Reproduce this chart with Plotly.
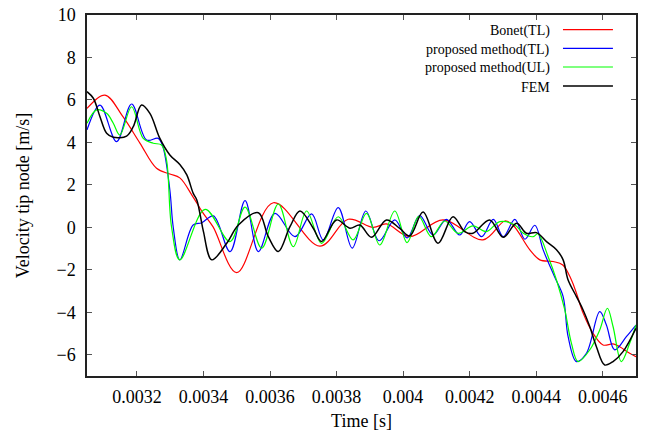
import plotly.graph_objects as go

# Tip-node velocity histories (time in s, velocity in m/s)
t_bonet = [0.003050, 0.003104, 0.003158, 0.003209, 0.003259, 0.003299, 0.003329, 0.003368,
           0.003399, 0.003429, 0.003500, 0.003610, 0.003750, 0.003835, 0.003910, 0.003950,
           0.004020, 0.004120, 0.004240, 0.004306, 0.004330, 0.004381, 0.004411, 0.004451,
           0.004480, 0.004506, 0.004521, 0.004541, 0.004571, 0.004601, 0.004631, 0.004651,
           0.004681, 0.004700]
v_bonet = [5.6, 6.23, 5.21, 3.97, 2.78, 2.51, 2.33, 1.45,
           0.67, 0.02, -2.13, 1.16, -0.88, 0.38, 0.0, 0.16,
           -0.44, 0.35, -0.59, 0.30, 0.11, -1.06, -1.53, -1.61,
           -1.77, -2.48, -3.10, -4.04, -4.99, -5.54, -5.49, -5.62,
           -5.93, -6.09]

t_tl = [0.003050, 0.003089, 0.003139, 0.003184, 0.003229, 0.003264, 0.003278, 0.003299,
        0.003309, 0.003329, 0.003369, 0.003395, 0.003430, 0.003480, 0.003525, 0.003565,
        0.003615, 0.003675, 0.003725, 0.003760, 0.003805, 0.003847, 0.003888, 0.003928,
        0.003975, 0.004012, 0.004050, 0.004090, 0.004130, 0.004170, 0.004200, 0.004236,
        0.004271, 0.004301, 0.004336, 0.004366, 0.004396, 0.004421, 0.004455, 0.004481,
        0.004496, 0.004521, 0.004551, 0.004591, 0.004611, 0.004636, 0.004671, 0.004700]
v_tl = [4.59, 5.76, 4.04, 5.81, 4.11, 4.19, 3.8, 1.76,
        0.03, -1.53, 0.11, 0.22, 0.54, -1.14, 1.26, -1.14,
        0.66, -0.44, 0.63, -0.59, 0.93, -0.98, 0.77, -0.63,
        0.35, -0.5, 0.55, -0.36, 0.38, -0.36, 0.27, -0.44,
        0.38, -0.44, 0.38, -0.56, 0.1, -1.06, -2.32, -3.26,
        -5.15, -6.32, -5.93, -3.97, -4.6, -5.77, -5.15, -4.6]

t_ul = [0.003050, 0.003079, 0.003109, 0.003129, 0.003149, 0.003184, 0.003219, 0.003249,
        0.003274, 0.003289, 0.003304, 0.003329, 0.003405, 0.003480, 0.003525, 0.003575,
        0.003625, 0.003670, 0.003710, 0.003755, 0.003805, 0.003850, 0.003890, 0.003930,
        0.003975, 0.004012, 0.004047, 0.004085, 0.004125, 0.004165, 0.004210, 0.004250,
        0.004291, 0.004336, 0.004361, 0.004391, 0.004405, 0.004436, 0.004461, 0.004486,
        0.004506, 0.004526, 0.004561, 0.004591, 0.004614, 0.004631, 0.004656, 0.004681,
        0.004700]
v_ul = [4.9, 5.53, 5.37, 4.9, 4.35, 5.68, 4.19, 3.96,
        3.88, 3.17, 0.03, -1.53, 0.85, -0.67, 0.95, -0.98,
        1.1, -0.91, 0.77, -0.75, 0.5, -0.59, 0.66, -0.83,
        0.77, -0.72, 0.52, -0.44, 0.3, -0.28, 0.07, -0.2,
        0.27, 0.11, -0.28, -0.44, -0.3, -1.38, -2.48, -3.89,
        -5.46, -6.32, -5.77, -4.83, -3.81, -4.67, -6.32, -5.46,
        -4.6]

t_fem = [0.003050, 0.003069, 0.003089, 0.003109, 0.003129, 0.003169, 0.003189, 0.003214,
         0.003239, 0.003269, 0.003299, 0.003329, 0.003350, 0.003369, 0.003380, 0.003390,
         0.003400, 0.003425, 0.003470, 0.003505, 0.003565, 0.003595, 0.003625, 0.003660,
         0.003690, 0.003730, 0.003755, 0.003800, 0.003840, 0.003870, 0.003905, 0.003950,
         0.003990, 0.004020, 0.004060, 0.004105, 0.004150, 0.004185, 0.004210, 0.004260,
         0.004301, 0.004341, 0.004371, 0.004401, 0.004431, 0.004461, 0.004481, 0.004496,
         0.004521, 0.004541, 0.004561, 0.004581, 0.004606, 0.004631, 0.004661, 0.004700]
v_fem = [6.39, 6.08, 5.21, 4.43, 4.24, 4.3, 4.74, 5.76,
         5.37, 4.19, 3.41, 2.96, 2.47, 1.61, 1.29, 0.6,
         -0.2, -1.53, -0.75, 0.11, 0.69, -0.44, -1.14, 0.03,
         0.77, -0.04, -0.67, 0.35, -0.04, 0.11, -0.47, 0.35,
         -0.05, -0.4, 0.72, -0.75, 0.5, -0.2, -0.28, 0.35,
         -0.47, 0.19, -0.28, -0.25, -0.67, -1.05, -1.53, -2.48,
         -3.26, -3.89, -4.67, -5.62, -6.48, -6.32, -5.85, -4.75]

series_names = ["Bonet(TL)", "proposed method(TL)", "proposed method(UL)", "FEM"]
series_colors = ["#ff0000", "#0000ff", "#00ff00", "#000000"]
series_widths = [1.2, 1.2, 1.2, 1.5]
series_t = [t_bonet, t_tl, t_ul, t_fem]
series_v = [v_bonet, v_tl, v_ul, v_fem]

x_ticks = [0.0032, 0.0034, 0.0036, 0.0038, 0.004, 0.0042, 0.0044, 0.0046]
x_tick_labels = ["0.0032", "0.0034", "0.0036", "0.0038", "0.004", "0.0042", "0.0044", "0.0046"]
y_ticks = [-6, -4, -2, 0, 2, 4, 6, 8, 10]

FONT = "Liberation Serif, Times New Roman, serif"

fig = go.Figure()
for t, v, name, color, w in zip(series_t, series_v, series_names, series_colors, series_widths):
    fig.add_trace(go.Scatter(
        x=t, y=v, mode="lines", name=name,
        line=dict(color=color, width=w, shape="spline", smoothing=1.0),
        showlegend=False,
    ))

# gnuplot-style key: right-aligned labels with line samples to their right
key_y = [0.9593, 0.9078, 0.8560, 0.8033]
for name, color, w, ky in zip(series_names, series_colors, series_widths, key_y):
    fig.add_shape(type="line", xref="paper", yref="paper",
                  x0=0.867, x1=0.958, y0=ky, y1=ky,
                  line=dict(color=color, width=w))
    fig.add_annotation(xref="paper", yref="paper", x=0.8465, y=ky - 0.004,
                       xanchor="right", yanchor="middle", showarrow=False,
                       text=name, font=dict(family=FONT, size=14, color="#000"))

axis_common = dict(
    showline=True, linecolor="#222", linewidth=1.5, mirror="ticks",
    ticks="inside", ticklen=5, tickcolor="#555", tickwidth=1,
    showgrid=False, zeroline=False, automargin=False,
    tickfont=dict(family=FONT, size=18, color="#000"),
)

fig.update_xaxes(
    range=[0.00305, 0.0047], tickvals=x_ticks, ticktext=x_tick_labels,
    title=dict(text="Time [s]", font=dict(family=FONT, size=18, color="#000"), standoff=8),
    ticklabelstandoff=4,
    **axis_common,
)
fig.update_yaxes(
    range=[-7, 10], tickvals=y_ticks,
    title=dict(text="Velocity tip node [m/s]", font=dict(family=FONT, size=18, color="#000"), standoff=22),
    ticklabelstandoff=6,
    **axis_common,
)

fig.update_layout(
    width=649, height=438,
    margin=dict(l=87, r=13, t=15, b=62),
    paper_bgcolor="white", plot_bgcolor="white",
)

fig.write_html("out.html")
